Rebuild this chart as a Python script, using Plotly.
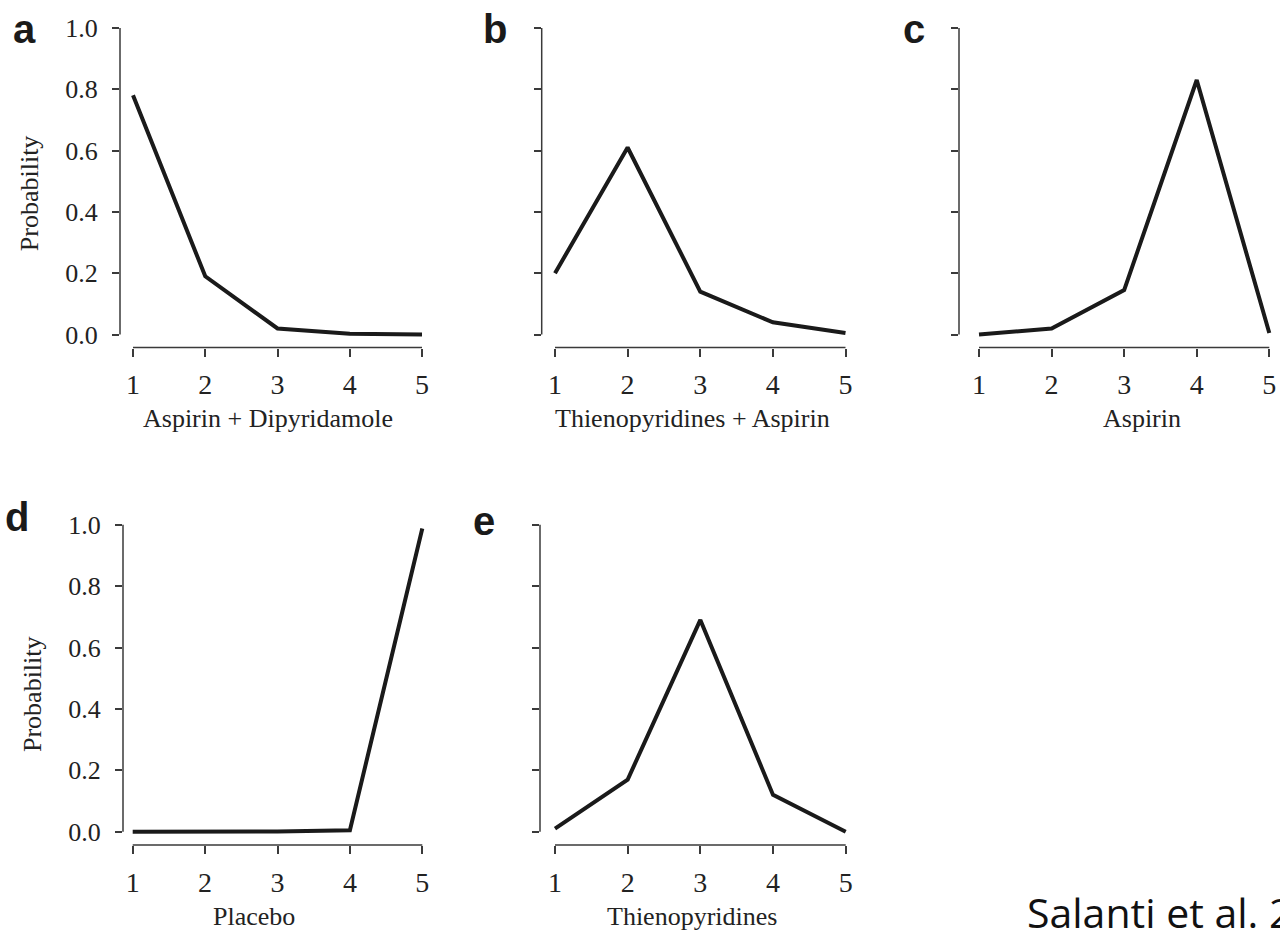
import plotly.graph_objects as go

# Rank probabilities for each antiplatelet treatment (rank 1 = best)
ranks = [1, 2, 3, 4, 5]
aspirin_dipyridamole = [0.78, 0.19, 0.02, 0.003, 0.0]
thienopyridines_aspirin = [0.20, 0.61, 0.14, 0.04, 0.005]
aspirin = [0.0, 0.02, 0.145, 0.83, 0.005]
placebo = [0.0, 0.0, 0.001, 0.005, 0.988]
thienopyridines = [0.01, 0.17, 0.69, 0.12, 0.0]

panel_letters = ["a", "b", "c", "d", "e"]
treatment_names = ["Aspirin + Dipyridamole", "Thienopyridines + Aspirin",
                   "Aspirin", "Placebo", "Thienopyridines"]
series = [aspirin_dipyridamole, thienopyridines_aspirin, aspirin,
          placebo, thienopyridines]
y_ticks = [0.0, 0.2, 0.4, 0.6, 0.8, 1.0]
y_title = "Probability"
footer = "Salanti et al. 2011"

W, H = 1280, 935
SERIF = "Liberation Serif, Times New Roman, serif"
AXIS_COLOR = "#3a3a3a"
TEXT_COLOR = "#222222"

# Pixel geometry of each panel: plot-area edges and where ranks 1 and 5 fall,
# plus where the 0 and 1 probability ticks fall.
geometry = [
    dict(left=120, right=434, x_first=133.0, x_last=422.0, y0=334.0, y1=26.0, axis_y=347, ylab=True,
         letter=(24, 27), xtitle=(268, 418), ytitle=(29, 192)),
    dict(left=541.7, right=858, x_first=555.0, x_last=845.5, y0=334.0, y1=26.0, axis_y=347, ylab=False,
         letter=(495, 27), xtitle=(692, 418), ytitle=None),
    dict(left=959, right=1280, x_first=979.0, x_last=1269.3, y0=334.0, y1=26.0, axis_y=347, ylab=False,
         letter=(914, 27), xtitle=(1142, 418), ytitle=None),
    dict(left=123, right=434, x_first=132.7, x_last=422.3, y0=833.3, y1=525.0, axis_y=846.7, ylab=True,
         letter=(17, 517), xtitle=(254, 918), ytitle=(32, 695)),
    dict(left=540, right=858, x_first=555.0, x_last=845.7, y0=833.3, y1=525.0, axis_y=846.7, ylab=False,
         letter=(484, 521), xtitle=(692, 918), ytitle=None),
]

fig = go.Figure()
annotations = []
shapes = []

for i, (g, vals, name, letter) in enumerate(zip(geometry, series, treatment_names, panel_letters)):
    n = "" if i == 0 else str(i + 1)
    xa, ya = "x" + n, "y" + n

    # data ranges derived from pixel placement of the first/last ticks
    xs = (g["x_last"] - g["x_first"]) / (ranks[-1] - ranks[0])
    xr = [ranks[0] - (g["x_first"] - g["left"]) / xs, ranks[0] + (g["right"] - g["x_first"]) / xs]
    ys = (g["y0"] - g["y1"]) / (y_ticks[-1] - y_ticks[0])
    top = g["y1"] - 12
    yr = [y_ticks[0] - (g["axis_y"] - g["y0"]) / ys, y_ticks[-1] + (g["y1"] - top) / ys]

    fig.add_trace(go.Scatter(
        x=ranks, y=vals, mode="lines", xaxis=xa, yaxis=ya,
        line=dict(color="#1a1a1a", width=4), showlegend=False, hoverinfo="skip",
    ))

    fig.layout["xaxis" + n] = dict(
        domain=[g["left"] / W, g["right"] / W], range=xr, anchor=ya,
        showgrid=False, zeroline=False, showline=False,
        tickmode="array", tickvals=ranks, ticktext=[str(r) for r in ranks],
        ticks="outside", ticklen=8, tickwidth=1.5, tickcolor=AXIS_COLOR,
        tickfont=dict(family=SERIF, size=28, color=TEXT_COLOR),
        ticklabelstandoff=4, ticklabeloverflow="allow",
    )
    fig.layout["yaxis" + n] = dict(
        domain=[1 - g["axis_y"] / H, 1 - top / H], range=yr, anchor=xa,
        showgrid=False, zeroline=False, showline=False,
        tickmode="array", tickvals=y_ticks,
        ticktext=[f"{t:.1f}" for t in y_ticks] if g["ylab"] else [""] * len(y_ticks),
        ticks="outside", ticklen=7, tickwidth=1.5, tickcolor=AXIS_COLOR,
        tickfont=dict(family=SERIF, size=26, color=TEXT_COLOR),
        ticklabelstandoff=9,
    )

    # R-style detached axis lines spanning only the tick range
    shapes.append(dict(type="line", xref=xa + " domain", yref=ya,
                       x0=0, x1=0, y0=y_ticks[0], y1=y_ticks[-1],
                       line=dict(color=AXIS_COLOR, width=1.5)))
    shapes.append(dict(type="line", xref=xa, yref=ya + " domain",
                       x0=ranks[0], x1=ranks[-1], y0=0, y1=0,
                       line=dict(color=AXIS_COLOR, width=1.5)))

    annotations.append(dict(
        text=name, xref="paper", yref="paper",
        x=g["xtitle"][0] / W, y=1 - g["xtitle"][1] / H,
        xanchor="center", yanchor="middle", showarrow=False,
        font=dict(family=SERIF, size=26, color=TEXT_COLOR),
    ))
    if g["ytitle"]:
        annotations.append(dict(
            text=y_title, xref="paper", yref="paper", textangle=-90,
            x=g["ytitle"][0] / W, y=1 - g["ytitle"][1] / H,
            xanchor="center", yanchor="middle", showarrow=False,
            font=dict(family=SERIF, size=26, color=TEXT_COLOR),
        ))
    annotations.append(dict(
        text=f"<b>{letter}</b>", xref="paper", yref="paper",
        x=g["letter"][0] / W, y=1 - g["letter"][1] / H,
        xanchor="center", yanchor="middle", showarrow=False,
        font=dict(family="Liberation Sans, Arial, sans-serif", size=40, color="#1a1a1a"),
    ))

annotations.append(dict(
    text=footer, xref="paper", yref="paper", x=1025 / W, y=1 - 914 / H,
    xanchor="left", yanchor="middle", showarrow=False,
    font=dict(family="Open Sans, Noto Sans, sans-serif", size=41, color="#111111"),
))

fig.update_layout(
    width=W, height=H, margin=dict(l=0, r=0, t=0, b=0),
    paper_bgcolor="white", plot_bgcolor="white",
    annotations=annotations, shapes=shapes,
)

fig.write_html("out.html")
